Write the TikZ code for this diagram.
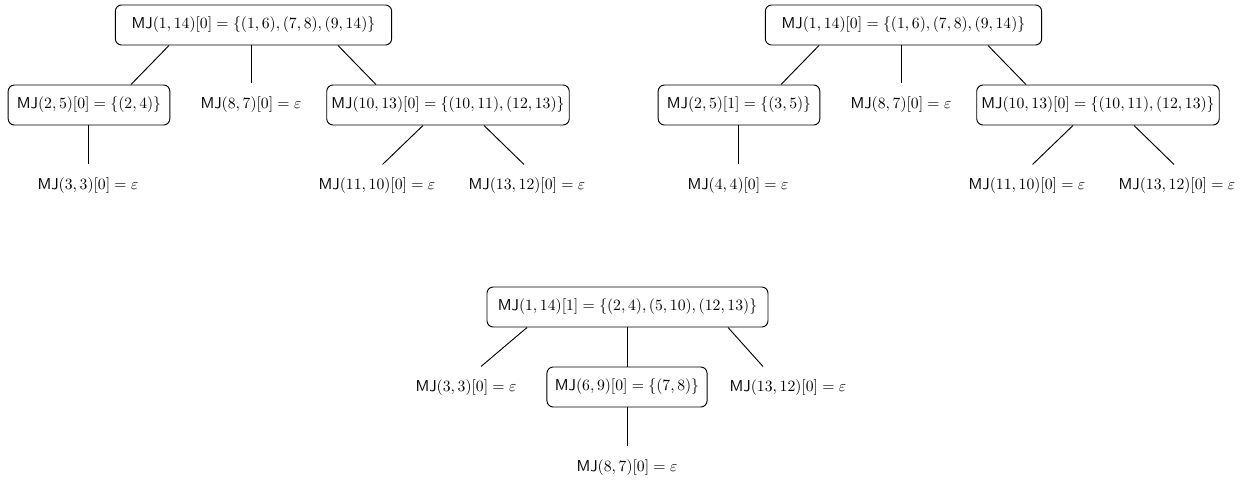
\documentclass[tikz,border=0pt]{standalone}
\usetikzlibrary{calc}
\newcommand{\mj}{\mathsf{MJ}}
\begin{document}
\begin{tikzpicture}[
  x=0.637pt, y=-0.637pt,
  mjbox/.style={draw, rounded corners=4pt, minimum height=25.5pt, inner xsep=3pt},
  mjleaf/.style={minimum height=26.8pt, inner xsep=3pt},
  line width=0.6pt
]
  \useasboundingbox (0,0) rectangle (1240,479);

  % left tree
  \node[mjbox, minimum width=176pt] (r1) at (253.5,25) {$\mj(1,14)[0] = \{(1,6),(7,8),(9,14)\}$};
  \node[mjbox, minimum width=103pt] (a1) at (89,105) {$\mj(2,5)[0] = \{(2,4)\}$};
  \node[mjleaf] (b1) at (251,105) {$\mj(8,7)[0] = \varepsilon$};
  \node[mjbox, minimum width=154pt] (c1) at (448,105) {$\mj(10,13)[0] = \{(10,11),(12,13)\}$};
  \node[mjleaf] (d1) at (88,186) {$\mj(3,3)[0] = \varepsilon$};
  \node[mjleaf] (e1) at (377,186) {$\mj(11,10)[0] = \varepsilon$};
  \node[mjleaf] (f1) at (527,186) {$\mj(13,12)[0] = \varepsilon$};
  \draw ($(r1.south)+(-84.5,0)$) -- ($(a1.north)+(42,0)$);
  \draw (b1.north |- r1.south) -- (b1.north);
  \draw ($(r1.south)+(84.5,0)$) -- ($(c1.north)+(-72,0)$);
  \draw (d1.north |- a1.south) -- (d1.north);
  \draw ($(c1.south)+(-25,0)$) -- ($(e1.north)+(5.5,0)$);
  \draw ($(c1.south)+(36,0)$) -- ($(f1.north)+(-3,0)$);

  % right tree
  \node[mjbox, minimum width=176pt] (r2) at (903.5,25) {$\mj(1,14)[0] = \{(1,6),(7,8),(9,14)\}$};
  \node[mjbox, minimum width=103pt] (a2) at (739,105) {$\mj(2,5)[1] = \{(3,5)\}$};
  \node[mjleaf] (b2) at (901,105) {$\mj(8,7)[0] = \varepsilon$};
  \node[mjbox, minimum width=154pt] (c2) at (1098,105) {$\mj(10,13)[0] = \{(10,11),(12,13)\}$};
  \node[mjleaf] (d2) at (738,186) {$\mj(4,4)[0] = \varepsilon$};
  \node[mjleaf] (e2) at (1027,186) {$\mj(11,10)[0] = \varepsilon$};
  \node[mjleaf] (f2) at (1177,186) {$\mj(13,12)[0] = \varepsilon$};
  \draw ($(r2.south)+(-84.5,0)$) -- ($(a2.north)+(42,0)$);
  \draw (b2.north |- r2.south) -- (b2.north);
  \draw ($(r2.south)+(84.5,0)$) -- ($(c2.north)+(-72,0)$);
  \draw (d2.north |- a2.south) -- (d2.north);
  \draw ($(c2.south)+(-25,0)$) -- ($(e2.north)+(5.5,0)$);
  \draw ($(c2.south)+(36,0)$) -- ($(f2.north)+(-3,0)$);

  % bottom tree
  \node[mjbox, minimum width=179pt] (r3) at (627.5,307) {$\mj(1,14)[1] = \{(2,4),(5,10),(12,13)\}$};
  \node[mjleaf] (a3) at (466,388) {$\mj(3,3)[0] = \varepsilon$};
  \node[mjbox, minimum width=102pt] (b3) at (627,387) {$\mj(6,9)[0] = \{(7,8)\}$};
  \node[mjleaf] (c3) at (788,388) {$\mj(13,12)[0] = \varepsilon$};
  \node[mjleaf] (d3) at (627,468) {$\mj(8,7)[0] = \varepsilon$};
  \draw ($(r3.south)+(-100.5,0)$) -- ($(a3.north)+(15,0)$);
  \draw (b3.north |- r3.south) -- (b3.north);
  \draw ($(r3.south)+(100.5,0)$) -- ($(c3.north)+(-25,0)$);
  \draw (d3.north |- b3.south) -- (d3.north);
\end{tikzpicture}
\end{document}
